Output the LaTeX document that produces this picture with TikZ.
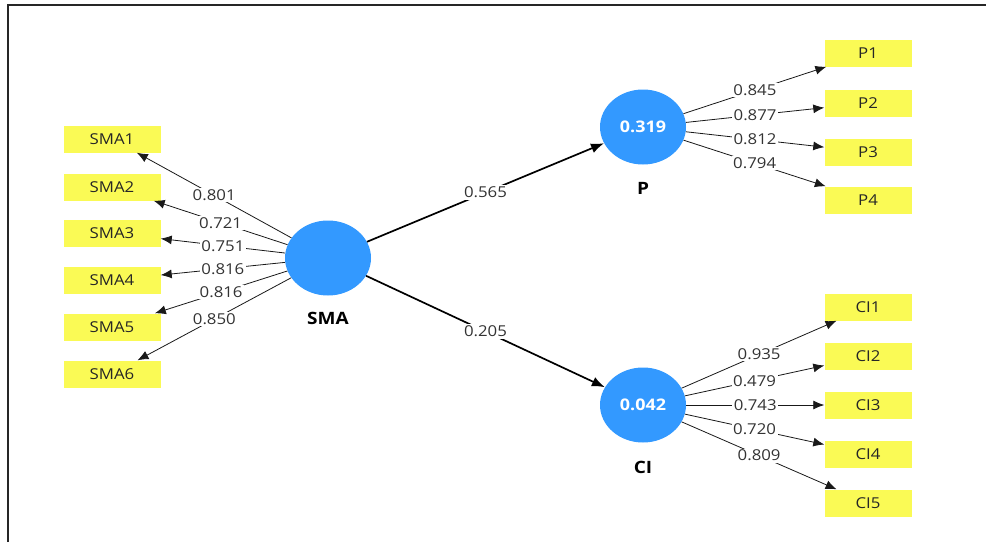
\documentclass[tikz,border=0pt]{standalone}
\usepackage{fontspec}
\setmainfont{Open Sans}[FakeStretch=1.12]
\usetikzlibrary{arrows.meta,shapes.geometric}
\definecolor{lvblue}{RGB}{51,153,255}
\definecolor{mvyellow}{RGB}{250,250,85}
\tikzset{
  latent/.style={ellipse, fill=lvblue, minimum width=86pt, minimum height=75pt,
    inner sep=0pt, text=white, font=\fontsize{16}{18}\selectfont\bfseries},
  manifest/.style={fill=mvyellow, minimum height=27pt, inner sep=0pt,
    text=black!85, font=\fontsize{15}{17}\selectfont},
  lvname/.style={font=\fontsize{17}{19}\selectfont\bfseries},
  wlbl/.style={fill=white, inner sep=1.5pt, text=black!80,
    font=\fontsize{15}{17}\selectfont},
  load/.style={-{Latex[length=11pt,width=9pt]}, line width=0.8pt, black!90},
  inner/.style={-{Latex[length=13pt,width=10pt]}, line width=1.7pt}
}
\begin{document}
\begin{tikzpicture}[x=1pt,y=-1pt]
\useasboundingbox (0,0) rectangle (986,542);
    % Frame
    \draw[line width=1.6pt, black!85] (8,542) -- (8,5) -- (986,5);

    % Constructs
    \node[latent] (SMA) at (328,258) {};
    \node[latent] (P) at (643,127) {0.319};
    \node[latent] (CI) at (643,405) {0.042};
    \node[lvname] (SMAname) at (328,318) {SMA};
    \node[lvname] (Pname) at (643,188) {P};
    \node[lvname] (CIname) at (643,467) {CI};

    % Paths
    \draw[inner] (SMA) -- node[wlbl] {0.565} (P);
    \draw[inner] (SMA) -- node[wlbl] {0.205} (CI);

    % SMA indicators
    \foreach \i/\y/\v in {1/139/0.801, 2/187/0.721, 3/233/0.751,
                          4/280/0.816, 5/327/0.816, 6/374/0.850} {
        \node[manifest, minimum width=97pt] (SMA\i) at (112,\y) {SMA\i};
        \draw[load] (SMA) -- node[wlbl] {\v} (SMA\i);
    }

    % P indicators
    \foreach \i/\y/\v in {1/53/0.845, 2/103/0.877, 3/152/0.812, 4/200/0.794} {
        \node[manifest, minimum width=87pt] (P\i) at (868,\y) {P\i};
        \draw[load] (P) -- node[wlbl] {\v} (P\i);
    }

    % CI indicators
    \foreach \i/\y/\v in {1/307/0.935, 2/356/0.479, 3/405/0.743,
                          4/454/0.720, 5/503/0.809} {
        \node[manifest, minimum width=87pt] (CI\i) at (868,\y) {CI\i};
        \draw[load] (CI) -- node[wlbl] {\v} (CI\i);
    }
\end{tikzpicture}
\end{document}
